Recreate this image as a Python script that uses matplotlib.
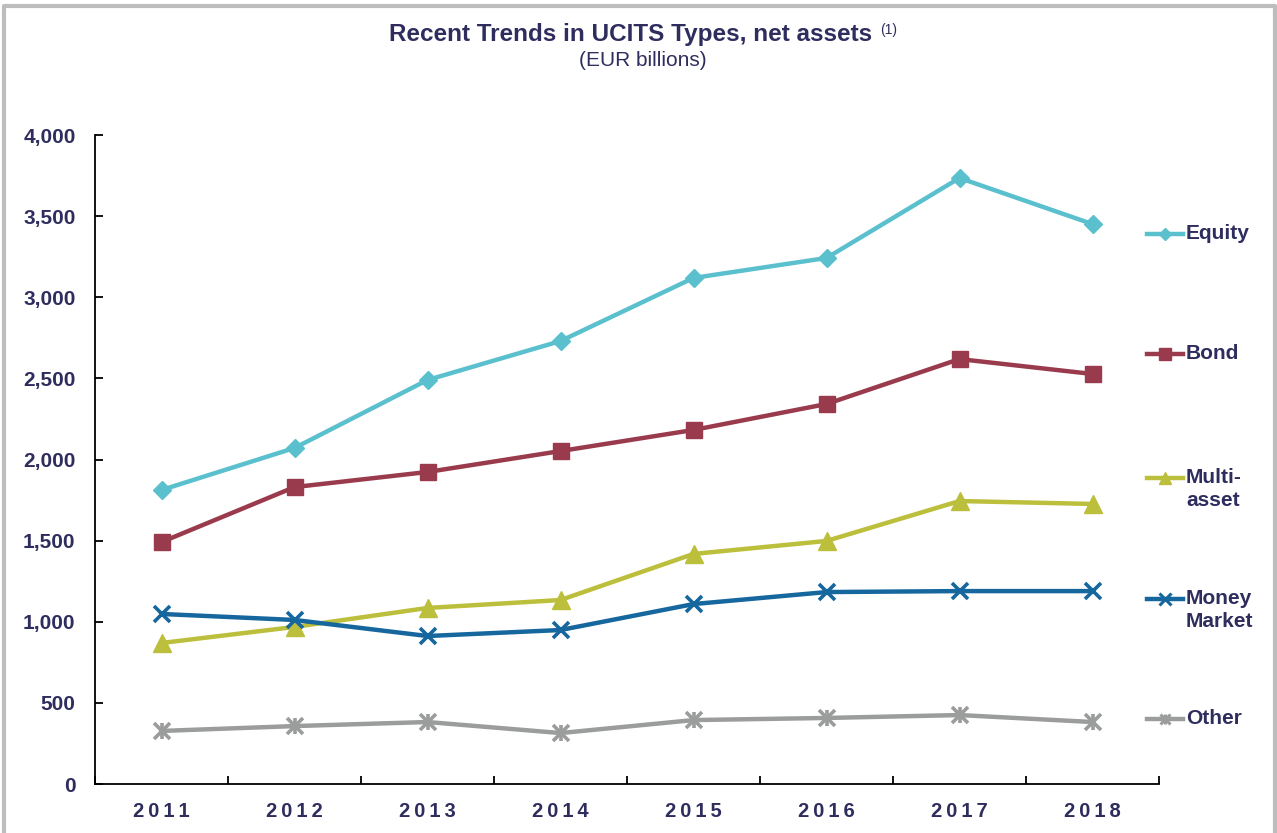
import matplotlib
matplotlib.use("Agg")
import matplotlib.pyplot as plt
from matplotlib.lines import Line2D
from matplotlib.ticker import FuncFormatter, FixedLocator

plt.rcParams['font.family'] = ['Liberation Sans', 'DejaVu Sans']

years = ['2011', '2012', '2013', '2014', '2015', '2016', '2017', '2018']
equity = [1812, 2071, 2490, 2730, 3119, 3242, 3735, 3451]
bond = [1491, 1830, 1923, 2052, 2182, 2342, 2619, 2527]
multi_asset = [869, 968, 1085, 1134, 1418, 1498, 1744, 1726]
money_market = [1048, 1011, 912, 949, 1109, 1183, 1189, 1189]
other = [327, 357, 382, 314, 394, 407, 425, 382]
series_names = ['Equity', 'Bond', 'Multi-\nasset', 'Money\nMarket', 'Other']

TXT = '#2E2D5E'
colors = ['#5BC0CE', '#9A3B4D', '#BCBF3B', '#17679F', '#9B9D9C']
markers = ['D', 's', '^', 'x', 'x']
msizes = [9, 12, 13, 12, 11]

fig = plt.figure(figsize=(12.77, 8.33), dpi=100)
ax = fig.add_axes([95/1277, (833-784)/833, (1159-95)/1277, (784-135)/833])

x = list(range(len(years)))
data = [equity, bond, multi_asset, money_market, other]
for vals, c, m, ms in zip(data, colors, markers, msizes):
    ax.plot(x, vals, color=c, lw=3.2, marker=m, ms=ms, mew=2.6 if m == 'x' else 1,
            mec=c, mfc=c, solid_joinstyle='round', zorder=3)
# vertical bar for asterisk marker of "Other"
ax.plot(x, other, ls='none', marker='|', ms=12, mew=2.6, color=colors[4], zorder=3)

ax.set_xlim(-0.5, 7.5)
ax.set_ylim(0, 4000)
ax.set_yticks(range(0, 4001, 500))
ax.yaxis.set_major_formatter(FuncFormatter(lambda v, p: f'{int(v):,}'))
ax.set_xticks(x)
ax.set_xticklabels(['\u2009'.join(y) for y in years])
ax.xaxis.set_minor_locator(FixedLocator([i + 0.5 for i in range(-1, 8)]))
ax.tick_params(axis='x', which='major', length=0, pad=13, labelsize=14.5, labelcolor=TXT)
ax.tick_params(axis='x', which='minor', length=6, width=1.3, direction='in', color='black')
ax.tick_params(axis='y', length=6, width=1.3, direction='in', pad=14, labelsize=15, labelcolor=TXT)
for lab in ax.get_xticklabels() + ax.get_yticklabels():
    lab.set_fontweight('bold')
for s in ['top', 'right']:
    ax.spines[s].set_visible(False)
for s in ['left', 'bottom']:
    ax.spines[s].set_linewidth(1.3)
    ax.spines[s].set_color('black')

# Title
fig.text(631/1277, 1 - 35/833, 'Recent Trends in UCITS Types, net assets', ha='center', va='center',
         fontsize=17.5, fontweight='bold', color=TXT)
fig.text(880/1277, 1 - 30/833, '(1)', ha='left', va='center', fontsize=10, color=TXT)
fig.text(643/1277, 1 - 60/833, '(EUR billions)', ha='center', va='center', fontsize=15, color=TXT)

# Legend (custom, right side)
leg_y = [234, 354, 478, 599, 719]
for name, c, m, ms, yy in zip(series_names, colors, markers, msizes, leg_y):
    yf = 1 - yy/833
    fig.add_artist(Line2D([1147/1277, 1183/1277], [yf, yf], color=c, lw=3.2))
    fig.add_artist(Line2D([1165/1277], [yf], color=c, marker=m, ms=ms*0.7,
                          mew=2.2 if m == 'x' else 1, mec=c, mfc=c))
    if name == 'Other':
        fig.add_artist(Line2D([1165/1277], [yf], color=c, marker='|', ms=ms*0.7, mew=2.2))
    fig.text(1186/1277, yf + 10/833, name, ha='left', va='top', fontsize=15,
             fontweight='bold', color=TXT, linespacing=1.25)

# Border
fig.add_artist(Line2D([4/1277, 4/1277, 1275/1277, 1275/1277], [0, 1 - 6/833, 1 - 6/833, 0],
                      color='#BDBDBD', lw=3))

fig.savefig('out.png', dpi=100)
